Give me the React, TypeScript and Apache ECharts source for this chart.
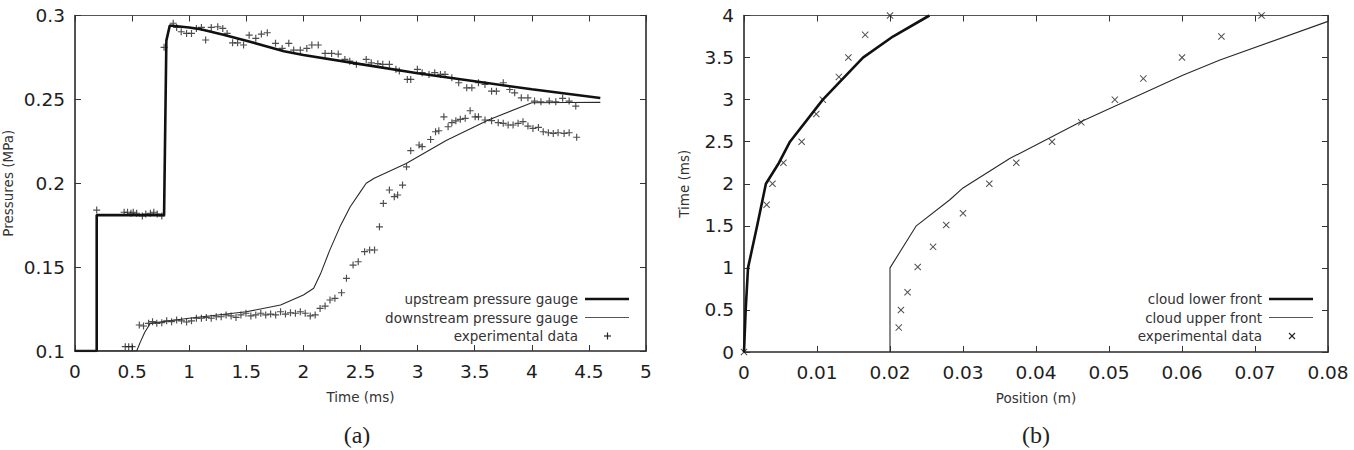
import React, { useEffect, useRef } from "react";
import * as echarts from "echarts";

// ---------- (a) pressure histories ----------
const upstreamTime = [0, 0.19, 0.19, 0.78, 0.8, 0.83, 1.0, 1.1, 1.3, 1.5, 1.83, 2.0, 2.5, 3.0, 3.5, 4.0, 4.6];
const upstreamPressure = [0.1, 0.1, 0.181, 0.181, 0.285, 0.294, 0.2928, 0.2918, 0.2885, 0.285, 0.2787, 0.2765, 0.271, 0.2656, 0.2608, 0.256, 0.2508];

const downstreamTime = [0, 0.54, 0.57, 0.61, 0.66, 1.0, 1.5, 1.8, 2.0, 2.09, 2.15, 2.23, 2.32, 2.41, 2.5, 2.55, 2.62, 2.9, 3.25, 3.62, 4.0, 4.3, 4.6];
const downstreamPressure = [0.1, 0.1, 0.105, 0.111, 0.1165, 0.1195, 0.1234, 0.1274, 0.1334, 0.1374, 0.146, 0.16, 0.174, 0.186, 0.195, 0.2, 0.203, 0.2118, 0.2255, 0.2377, 0.248, 0.2481, 0.2482];

const expUpTime = [
  0.19, 0.43, 0.46, 0.49, 0.51, 0.54, 0.59, 0.62, 0.66, 0.69, 0.72, 0.76, 0.78,
  0.86, 0.89, 0.93, 0.977, 1.02, 1.063, 1.107, 1.144, 1.193, 1.25, 1.294, 1.332, 1.38, 1.424, 1.476,
  1.525, 1.583, 1.632, 1.684, 1.756, 1.814, 1.872, 1.915, 1.973, 2.03, 2.074, 2.13, 2.19, 2.247, 2.305,
  2.363, 2.406, 2.464, 2.55, 2.594, 2.652, 2.695, 2.753, 2.81, 2.84, 2.91, 2.94, 2.998, 3.04, 3.1, 3.15,
  3.2, 3.24, 3.3, 3.36, 3.43, 3.475, 3.533, 3.59, 3.648, 3.69, 3.75, 3.807, 3.85, 3.908, 3.966, 4.024,
  4.08, 4.153, 4.21, 4.27, 4.327, 4.385,
];
const expUpPressure = [
  0.184, 0.1827, 0.1827, 0.1821, 0.1827, 0.1821, 0.1805, 0.1816, 0.1821, 0.1827, 0.1816, 0.1805, 0.281,
  0.2954, 0.2929, 0.2903, 0.2893, 0.2893, 0.2923, 0.2929, 0.2854, 0.2929, 0.2933, 0.2923, 0.2893, 0.2837, 0.2837, 0.2824,
  0.2883, 0.2864, 0.2889, 0.2897, 0.2834, 0.2804, 0.2834, 0.2794, 0.2794, 0.2804, 0.2824, 0.2824, 0.2774, 0.2774, 0.277,
  0.2738, 0.2728, 0.2709, 0.2738, 0.2718, 0.2713, 0.2709, 0.2709, 0.2679, 0.2669, 0.2619, 0.2619, 0.2679, 0.2659, 0.2649, 0.2659,
  0.2649, 0.2649, 0.2629, 0.2599, 0.2569, 0.2569, 0.2599, 0.2589, 0.2549, 0.2549, 0.2599, 0.2559, 0.2539, 0.2509, 0.2509, 0.249,
  0.2486, 0.249, 0.2486, 0.2506, 0.249, 0.246,
];

const expDownTime = [
  0.44, 0.47, 0.5, 0.563, 0.6, 0.644, 0.679, 0.716, 0.76, 0.803, 0.846, 0.89, 0.933, 0.977, 1.02, 1.063,
  1.107, 1.15, 1.193, 1.237, 1.28, 1.323, 1.367, 1.41, 1.453, 1.497, 1.54, 1.583, 1.627, 1.67, 1.713,
  1.757, 1.8, 1.843, 1.887, 1.93, 1.973, 2.016, 2.06, 2.103, 2.146, 2.19, 2.233, 2.276, 2.334, 2.377,
  2.435, 2.48, 2.536, 2.58, 2.623, 2.666, 2.7, 2.753, 2.796, 2.825, 2.868, 2.903, 2.94, 3.013, 3.04,
  3.114, 3.157, 3.186, 3.23, 3.267, 3.3, 3.335, 3.374, 3.417, 3.46, 3.504, 3.533, 3.59, 3.648, 3.706,
  3.75, 3.793, 3.836, 3.88, 3.923, 3.966, 4.01, 4.058, 4.1, 4.145, 4.188, 4.23, 4.283, 4.327, 4.393,
];
const expDownPressure = [
  0.1026, 0.1026, 0.1026, 0.1155, 0.1149, 0.1165, 0.1175, 0.1165, 0.1169, 0.118, 0.1175, 0.1185, 0.118, 0.1173, 0.118, 0.1195,
  0.1195, 0.12, 0.1195, 0.1204, 0.1204, 0.1215, 0.1209, 0.12, 0.1215, 0.1225, 0.1209, 0.1215, 0.1225, 0.1215, 0.122,
  0.1215, 0.1234, 0.122, 0.1228, 0.1225, 0.1234, 0.1225, 0.1209, 0.1215, 0.1254, 0.1268, 0.1304, 0.1314, 0.1347, 0.1433,
  0.1512, 0.1532, 0.1592, 0.1602, 0.1602, 0.174, 0.188, 0.196, 0.192, 0.193, 0.1989, 0.2098, 0.2194, 0.2228, 0.2218,
  0.2261, 0.2307, 0.2313, 0.2396, 0.2337, 0.2361, 0.2372, 0.2381, 0.2387, 0.2432, 0.2396, 0.2396, 0.2377, 0.2373, 0.2361,
  0.2357, 0.2347, 0.2347, 0.2357, 0.2367, 0.2341, 0.2327, 0.2333, 0.2307, 0.2301, 0.2297, 0.2301, 0.2297, 0.2301, 0.2274,
];

// ---------- (b) cloud fronts ----------
const lowerFrontPos = [0, 0.00023, 0.00055, 0.0018, 0.003, 0.0048, 0.0063, 0.0108, 0.0163, 0.0204, 0.0254];
const lowerFrontTime = [0, 0.5, 1.0, 1.5, 2.0, 2.25, 2.5, 3.0, 3.5, 3.75, 4.0];

const upperFrontPos = [0.02, 0.02, 0.0236, 0.0282, 0.03, 0.0364, 0.0462, 0.0601, 0.0652, 0.08];
const upperFrontTime = [0, 1.0, 1.5, 1.81, 1.95, 2.3, 2.74, 3.29, 3.47, 3.93];

const expCloudPos = [
  0, 0.0031, 0.0039, 0.0054, 0.0079, 0.0099, 0.0108, 0.013, 0.0143, 0.0166, 0.02,
  0.0212, 0.0215, 0.0224, 0.0238, 0.0259, 0.0277, 0.03, 0.0336, 0.0373, 0.0422, 0.0462, 0.0508, 0.0547, 0.06, 0.0654, 0.0709,
];
const expCloudTime = [
  0, 1.75, 2.0, 2.25, 2.5, 2.83, 3.0, 3.27, 3.5, 3.77, 4.0,
  0.29, 0.5, 0.71, 1.01, 1.25, 1.51, 1.65, 2.0, 2.25, 2.5, 2.73, 3.0, 3.25, 3.5, 3.75, 4.0,
];

const FONT = '"DejaVu Sans", Verdana, sans-serif';
const SERIF = '"Liberation Serif", "DejaVu Serif", serif';
const INK = "#1e1e1e";

const PLUS = "path://M2.5,0h1v6h-1z M0,2.5h6v1h-6z";
const CROSS = "path://M0,1L1,0L5,4L9,0L10,1L6,5L10,9L9,10L5,6L1,10L0,9L4,5Z";

const zip = (xs: number[], ys: number[]) => xs.map((x, i) => [x, ys[i]]);
const fmt = (v: number) => String(+v.toFixed(4));

function makeAxis(
  kind: "x" | "y",
  gridIndex: number,
  position: string,
  min: number,
  max: number,
  interval: number,
  labelled: boolean,
  name?: string,
  nameGap?: number
) {
  const major = position === "top" ? { color: "#555", width: 1 } : { color: "#2a2a2a", width: 1.6 };
  return {
    type: "value",
    gridIndex,
    position,
    min,
    max,
    interval,
    axisLine: { show: true, onZero: false, lineStyle: major },
    axisTick: { show: true, inside: true, length: 6, lineStyle: { color: "#333", width: 1 } },
    axisLabel: {
      show: labelled,
      fontSize: 18.5,
      fontFamily: FONT,
      color: INK,
      margin: kind === "x" ? 11 : 10,
      showMinLabel: true,
      showMaxLabel: true,
      formatter: fmt,
    },
    splitLine: { show: false },
    name: labelled ? name : undefined,
    nameLocation: "middle",
    nameGap,
    nameRotate: kind === "y" ? 90 : 0,
    nameTextStyle: { fontSize: 13.5, fontFamily: FONT, color: "#333" },
  };
}

function legendRow(textRight: number, y: number, label: string) {
  return {
    type: "text",
    style: {
      text: label,
      x: textRight,
      y,
      align: "right",
      verticalAlign: "middle",
      textAlign: "right",
      textVerticalAlign: "middle",
      fontSize: 13.5,
      fontFamily: FONT,
      fill: "#333",
    },
  };
}

function legendLine(x1: number, x2: number, y: number, width: number, color: string) {
  return {
    type: "line",
    shape: { x1, y1: y, x2, y2: y },
    style: { stroke: color, lineWidth: width },
  };
}

function caption(label: string, x: number) {
  return {
    type: "text",
    style: {
      text: label,
      x,
      y: 423,
      align: "center",
      verticalAlign: "top",
      textAlign: "center",
      textVerticalAlign: "top",
      fontSize: 24,
      fontFamily: SERIF,
      fill: "#222",
    },
  };
}

export default function App() {
  const ref = useRef<HTMLDivElement>(null);

  useEffect(() => {
    if (!ref.current) return;
    const chart = echarts.init(ref.current, undefined, { renderer: "svg" });

    const option = {
      animation: false,
      backgroundColor: "#ffffff",
      grid: [
        { left: 69, top: 15.5, width: 577, height: 335.5 },
        { left: 744, top: 15.5, width: 584, height: 336.5 },
      ],
      xAxis: [
        makeAxis("x", 0, "bottom", 0, 5, 0.5, true, "Time (ms)", 39),
        makeAxis("x", 0, "top", 0, 5, 0.5, false),
        makeAxis("x", 1, "bottom", 0, 0.08, 0.01, true, "Position (m)", 39),
        makeAxis("x", 1, "top", 0, 0.08, 0.01, false),
      ],
      yAxis: [
        makeAxis("y", 0, "left", 0.1, 0.3, 0.05, true, "Pressures (MPa)", 60),
        makeAxis("y", 0, "right", 0.1, 0.3, 0.05, false),
        makeAxis("y", 1, "left", 0, 4, 0.5, true, "Time (ms)", 53),
        makeAxis("y", 1, "right", 0, 4, 0.5, false),
      ],
      series: [
        {
          name: "upstream pressure gauge",
          type: "line",
          xAxisIndex: 0,
          yAxisIndex: 0,
          data: zip(upstreamTime, upstreamPressure),
          showSymbol: false,
          symbol: "none",
          lineStyle: { color: "#111", width: 2.6 },
        },
        {
          name: "downstream pressure gauge",
          type: "line",
          xAxisIndex: 0,
          yAxisIndex: 0,
          data: zip(downstreamTime, downstreamPressure),
          showSymbol: false,
          symbol: "none",
          lineStyle: { color: "#2a2a2a", width: 1.1 },
        },
        {
          name: "experimental data",
          type: "scatter",
          xAxisIndex: 0,
          yAxisIndex: 0,
          data: zip(expUpTime, expUpPressure).concat(zip(expDownTime, expDownPressure)),
          symbol: PLUS,
          symbolSize: 7,
          itemStyle: { color: "#222" },
        },
        {
          name: "cloud lower front",
          type: "line",
          xAxisIndex: 2,
          yAxisIndex: 2,
          data: zip(lowerFrontPos, lowerFrontTime),
          showSymbol: false,
          symbol: "none",
          lineStyle: { color: "#111", width: 2.6 },
        },
        {
          name: "cloud upper front",
          type: "line",
          xAxisIndex: 2,
          yAxisIndex: 2,
          data: zip(upperFrontPos, upperFrontTime),
          showSymbol: false,
          symbol: "none",
          lineStyle: { color: "#2a2a2a", width: 1.1 },
        },
        {
          name: "experimental data",
          type: "scatter",
          xAxisIndex: 2,
          yAxisIndex: 2,
          data: zip(expCloudPos, expCloudTime),
          symbol: CROSS,
          symbolSize: 7,
          itemStyle: { color: "#222" },
        },
      ],
      graphic: [
        // key of (a)
        legendRow(578, 299, "upstream pressure gauge"),
        legendRow(578, 317.5, "downstream pressure gauge"),
        legendRow(578, 336, "experimental data"),
        legendLine(585, 629, 299, 2.6, "#111"),
        legendLine(585, 629, 317.5, 1, "#555"),
        legendLine(604, 611, 336, 1.2, "#222"),
        { type: "line", shape: { x1: 607.5, y1: 332.5, x2: 607.5, y2: 339.5 }, style: { stroke: "#222", lineWidth: 1.2 } },
        // key of (b)
        legendRow(1262, 299, "cloud lower front"),
        legendRow(1262, 317.5, "cloud upper front"),
        legendRow(1262, 336, "experimental data"),
        legendLine(1269, 1313, 299, 2.6, "#111"),
        legendLine(1269, 1313, 317.5, 1, "#555"),
        { type: "line", shape: { x1: 1289, y1: 333, x2: 1295, y2: 339 }, style: { stroke: "#222", lineWidth: 1.1 } },
        { type: "line", shape: { x1: 1289, y1: 339, x2: 1295, y2: 333 }, style: { stroke: "#222", lineWidth: 1.1 } },
        // panel captions
        caption("(a)", 357),
        caption("(b)", 1036),
      ],
    };

    chart.setOption(option as any);
    return () => chart.dispose();
  }, []);

  return (
    <div
      ref={ref}
      style={{ position: "fixed", left: 0, top: 0, width: 1354, height: 450, background: "#fff" }}
    />
  );
}
